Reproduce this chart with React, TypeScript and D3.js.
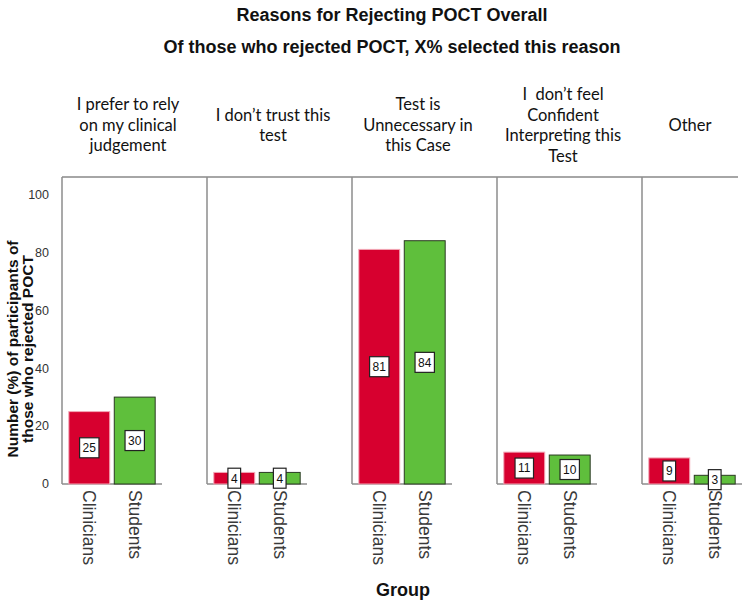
import React, { useEffect, useRef } from 'react';
import * as d3 from 'd3';

// reasons (panel headers, already wrapped the way the chart shows them)
const reasons = ['rely', 'trust', 'unnecessary', 'confident', 'other'];
const reasonLines = [
    ['I prefer to rely', 'on my clinical', 'judgement'],
    ['I don’t trust this', 'test'],
    ['Test is', 'Unnecessary in', 'this Case'],
    ['I  don’t feel', 'Confident', 'Interpreting this', 'Test'],
    ['Other'],
];
const groups = ['Clinicians', 'Students'];
const clinicians = [25, 4, 81, 11, 9];
const students = [30, 4, 84, 10, 3];
const yTicks = [0, 20, 40, 60, 80, 100];

const groupColors: Record<string, string> = {
    Clinicians: '#d7002f',
    Students: '#5fbf3c',
};
const groupStroke: Record<string, string> = {
    Clinicians: '#f2a7b6',
    Students: '#2a3a22',
};

const App = () => {
    const svgRef = useRef<SVGSVGElement>(null);

    useEffect(() => {
        const width = 747;
        const height = 603;
        const left = 62;
        const panelW = 145;
        const top = 177;
        const bottom = 484;

        const svg = d3.select(svgRef.current);
        svg.selectAll('*').remove();
        svg.attr('width', width).attr('height', height);

        const y = d3.scaleLinear().domain([0, 106]).range([bottom, top]);
        const xPanel = d3.scaleBand<string>().domain(reasons).range([left, left + panelW * reasons.length]);
        const xGroup = d3.scaleBand<string>().domain(groups).range([0, 100]).paddingInner(0.1).paddingOuter(0.15);

        const data = reasons.map((r, i) => ({
            reason: r,
            lines: reasonLines[i],
            values: [
                { group: 'Clinicians', value: clinicians[i] },
                { group: 'Students', value: students[i] },
            ],
        }));

        // Titles
        svg.append('text')
            .attr('x', 392).attr('y', 21)
            .attr('text-anchor', 'middle')
            .style('font-family', 'Liberation Sans, Arial, sans-serif')
            .style('font-size', '18px').style('font-weight', 'bold')
            .attr('fill', '#111')
            .text('Reasons for Rejecting POCT Overall');
        svg.append('text')
            .attr('x', 392).attr('y', 53)
            .attr('text-anchor', 'middle')
            .style('font-family', 'Liberation Sans, Arial, sans-serif')
            .style('font-size', '18px').style('font-weight', 'bold')
            .attr('fill', '#111')
            .text('Of those who rejected POCT, X% selected this reason');

        // Top frame line
        svg.append('line')
            .attr('x1', left).attr('x2', 738)
            .attr('y1', top).attr('y2', top)
            .attr('stroke', '#a6a6a6').attr('stroke-width', 2);

        // Y axis labels
        svg.append('g').selectAll('text')
            .data(yTicks)
            .enter()
            .append('text')
            .attr('x', 49)
            .attr('y', d => y(d))
            .attr('dy', '0.35em')
            .attr('text-anchor', 'end')
            .style('font-family', 'Liberation Sans, Arial, sans-serif')
            .style('font-size', '12.5px')
            .attr('fill', '#333')
            .text(d => d);

        // Y axis title
        const yTitle = svg.append('text')
            .attr('transform', 'translate(0, 349) rotate(-90)')
            .attr('text-anchor', 'middle')
            .style('font-family', 'Liberation Sans, Arial, sans-serif')
            .style('font-size', '15.5px').style('font-weight', 'bold')
            .attr('fill', '#111');
        yTitle.append('tspan').attr('x', 0).attr('y', 18).text('Number (%) of participants of');
        yTitle.append('tspan').attr('x', 0).attr('y', 33).text('those who rejected POCT');

        // Panels
        const panels = svg.selectAll('.panel')
            .data(data)
            .enter()
            .append('g')
            .attr('class', 'panel')
            .attr('transform', d => `translate(${xPanel(d.reason)}, 0)`);

        panels.append('line')
            .attr('x1', 0).attr('x2', 0)
            .attr('y1', top).attr('y2', bottom)
            .attr('stroke', '#8c8c8c').attr('stroke-width', 1.5);

        panels.append('line')
            .attr('x1', 0).attr('x2', 100)
            .attr('y1', bottom).attr('y2', bottom)
            .attr('stroke', '#8c8c8c').attr('stroke-width', 1.5);

        // headers
        panels.each(function (d) {
            const g = d3.select(this);
            const x0 = xPanel(d.reason) as number;
            const cx = Math.min(66, (738 - x0) / 2);
            const lh = 20.5;
            const cy = 125;
            const start = cy - ((d.lines.length - 1) * lh) / 2;
            const t = g.append('text')
                .attr('text-anchor', 'middle')
                .style('font-family', 'Lato, sans-serif')
                .style('font-size', '16.5px')
                .style('white-space', 'pre')
                .attr('fill', '#111');
            d.lines.forEach((line, i) => {
                t.append('tspan')
                    .attr('x', cx)
                    .attr('y', start + i * lh)
                    .attr('dy', '0.35em')
                    .text(line);
            });
        });

        const bars = panels.selectAll('.bar')
            .data(d => d.values)
            .enter()
            .append('g')
            .attr('class', 'bar');

        bars.append('rect')
            .attr('x', d => xGroup(d.group) as number)
            .attr('y', d => y(d.value))
            .attr('width', xGroup.bandwidth())
            .attr('height', d => bottom - y(d.value))
            .attr('fill', d => groupColors[d.group])
            .attr('stroke', d => groupStroke[d.group])
            .attr('stroke-width', 1);

        // value labels in boxes
        bars.each(function (d) {
            const g = d3.select(this);
            const cx = (xGroup(d.group) as number) + xGroup.bandwidth() / 2;
            const cy = y(d.value / 2);
            const box = g.append('rect');
            const label = g.append('text')
                .attr('x', cx)
                .attr('y', cy)
                .attr('dy', '0.36em')
                .attr('text-anchor', 'middle')
                .style('font-family', 'Liberation Sans, Arial, sans-serif')
                .style('font-size', '12px')
                .attr('fill', '#111')
                .text(d.value);
            const w = (label.node() as SVGTextElement).getComputedTextLength() + 6;
            box.attr('x', cx - w / 2)
                .attr('y', cy - 10)
                .attr('width', w)
                .attr('height', 20)
                .attr('fill', '#fff')
                .attr('stroke', '#222')
                .attr('stroke-width', 1.2);
        });

        // group tick labels
        bars.append('text')
            .attr('transform', d => `translate(${(xGroup(d.group) as number) + xGroup.bandwidth() / 2}, 490) rotate(90)`)
            .attr('dominant-baseline', 'central')
            .style('font-family', 'Liberation Sans, Arial, sans-serif')
            .style('font-size', '17.5px')
            .attr('fill', '#3a3a3a')
            .text(d => d.group);

        // x axis title
        svg.append('text')
            .attr('x', 403).attr('y', 596)
            .attr('text-anchor', 'middle')
            .style('font-family', 'Liberation Sans, Arial, sans-serif')
            .style('font-size', '18px').style('font-weight', 'bold')
            .attr('fill', '#111')
            .text('Group');
    }, []);

    return (
        <svg ref={svgRef} style={{ position: 'absolute', left: 0, top: 0, background: '#fff' }}></svg>
    );
};

export default App;
